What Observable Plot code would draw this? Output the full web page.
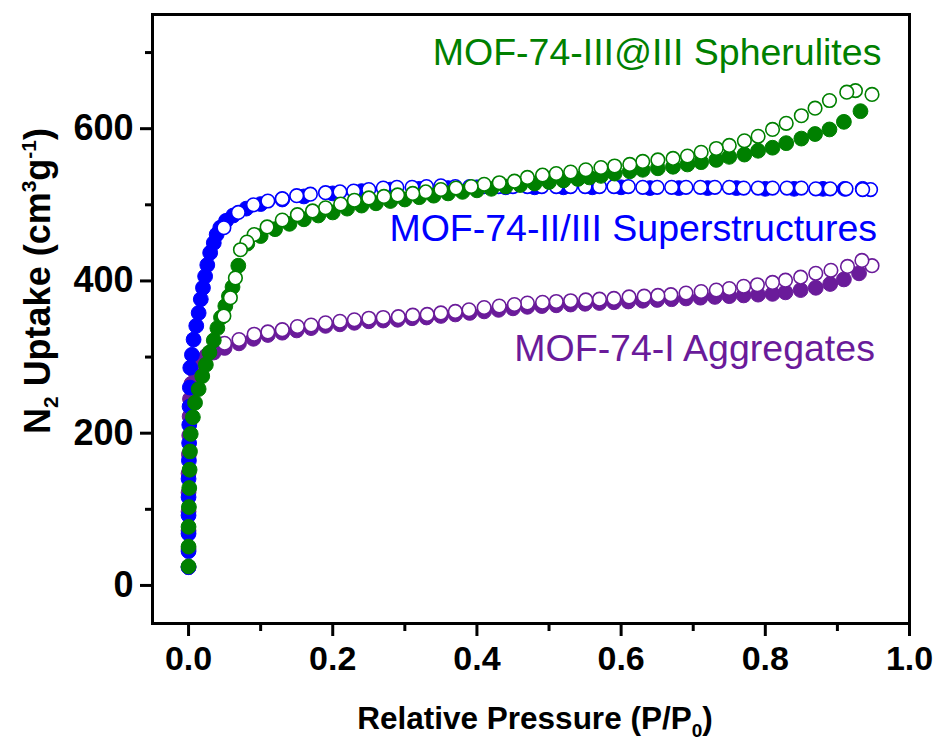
<!DOCTYPE html>
<html>
<head>
<meta charset="utf-8">
<script src="https://cdn.jsdelivr.net/npm/d3@7"></script>
<script src="https://cdn.jsdelivr.net/npm/@observablehq/plot@0.6"></script>
<style>
  html, body { margin: 0; padding: 0; background: #fff; }
  #chart svg { display: block; font-family: "Liberation Sans", Arial, sans-serif; }
</style>
</head>
<body>
<div id="chart"></div>
<script>
// ---- data (relative pressure, uptake) ----
const seriesNames = ["MOF-74-I Aggregates", "MOF-74-II/III Superstructures", "MOF-74-III@III Spherulites"];
const seriesColors = ["#6a1b9a", "#0000ff", "#008000"];

const purpleAds = [[0,24],[0,48],[0,72],[0,97],[0,122],[0,147],[0.0005,172],[0.001,197],[0.0015,222],[0.002,245],[0.004,265],[0.008,282],[0.014,295],[0.025,302],[0.035,306],[0.05,312],[0.07,318],[0.09,324],[0.11,329],[0.13,332],[0.15,335],[0.17,338],[0.19,341],[0.21,343],[0.23,345],[0.25,347],[0.27,348],[0.29,349],[0.31,351],[0.33,352],[0.35,354],[0.37,356],[0.39,358],[0.41,360],[0.43,362],[0.45,364],[0.47,366],[0.49,367],[0.51,368],[0.53,369],[0.55,370],[0.57,371],[0.59,372],[0.61,373],[0.63,374],[0.65,375],[0.67,376],[0.69,377],[0.71,378],[0.73,379],[0.75,380],[0.77,381],[0.79,382],[0.81,383],[0.828,385],[0.849,388],[0.87,391],[0.89,396],[0.909,402],[0.93,410]];
const purpleDes = [[0.948,420],[0.934,427],[0.914,419],[0.891,414],[0.87,410],[0.849,405],[0.828,401],[0.81,398],[0.789,395],[0.77,393],[0.75,390],[0.732,388],[0.711,386],[0.69,384],[0.669,382],[0.651,381],[0.632,380],[0.611,379],[0.59,377],[0.57,376],[0.551,375],[0.53,374],[0.51,373],[0.491,372],[0.47,371],[0.452,369],[0.431,367],[0.41,365],[0.389,362],[0.37,360],[0.35,358],[0.331,356],[0.311,355],[0.291,353],[0.27,352],[0.25,351],[0.23,349],[0.21,347],[0.19,345],[0.17,342],[0.151,340],[0.13,336],[0.11,333],[0.091,330],[0.07,323],[0.05,318]];

const blueAds = [[0,24],[0,45],[0,68],[0,92],[0,116],[0,140],[0.0005,164],[0.0008,187],[0.001,211],[0.0014,235],[0.0018,260],[0.0024,286],[0.0047,303],[0.007,323],[0.0107,341],[0.014,358],[0.017,376],[0.02,391],[0.023,406],[0.026,421],[0.03,437],[0.035,450],[0.039,461],[0.044,470],[0.052,479],[0.062,486],[0.08,495],[0.1,501],[0.13,507],[0.16,511],[0.2,515],[0.24,518],[0.28,520],[0.32,521],[0.36,522],[0.4,523],[0.44,523],[0.48,523],[0.52,523],[0.56,523],[0.6,523],[0.64,522],[0.68,522],[0.72,522],[0.76,522],[0.8,521],[0.84,521],[0.88,521],[0.91,521],[0.935,521]];
const blueDes = [[0.946,520],[0.935,520],[0.912,521],[0.89,521],[0.87,521],[0.85,522],[0.83,522],[0.81,522],[0.79,522],[0.77,522],[0.75,523],[0.73,523],[0.71,523],[0.69,523],[0.67,523],[0.65,523],[0.63,523],[0.61,524],[0.59,524],[0.57,524],[0.55,524],[0.53,524],[0.51,524],[0.49,524],[0.47,524],[0.45,524],[0.43,524],[0.41,524],[0.39,524],[0.37,524],[0.35,525],[0.33,524],[0.31,523],[0.289,523],[0.27,522],[0.25,520],[0.229,518],[0.21,517],[0.19,516],[0.169,514],[0.15,512],[0.13,508],[0.11,505],[0.09,500],[0.069,490],[0.049,470]];

const greenAds = [[0,25],[0,51],[0,77],[0.0005,103],[0.001,128],[0.0015,152],[0.002,176],[0.003,199],[0.006,221],[0.009,240],[0.014,258],[0.019,275],[0.024,290],[0.029,306],[0.035,322],[0.04,338],[0.045,352],[0.051,367],[0.056,380],[0.061,392],[0.069,420],[0.0815,449],[0.1,459],[0.12,468],[0.14,475],[0.16,481],[0.18,486],[0.2,490],[0.22,495],[0.24,499],[0.26,502],[0.28,505],[0.3,507],[0.32,510],[0.34,512],[0.36,515],[0.38,517],[0.4,519],[0.42,521],[0.44,524],[0.46,526],[0.48,528],[0.5,530],[0.52,532],[0.54,534],[0.556,536],[0.572,538],[0.591,541],[0.612,544],[0.63,546],[0.651,548],[0.672,550],[0.692,553],[0.711,556],[0.732,559],[0.75,563],[0.771,566],[0.79,571],[0.81,575],[0.829,581],[0.85,587],[0.869,593],[0.889,599],[0.909,609],[0.932,623]];
const greenDes = [[0.948,645],[0.925,650],[0.913,648],[0.889,637],[0.869,627],[0.85,617],[0.829,607],[0.81,599],[0.79,590],[0.771,584],[0.75,578],[0.732,574],[0.711,569],[0.692,564],[0.672,561],[0.651,559],[0.63,557],[0.612,553],[0.591,551],[0.572,549],[0.551,546],[0.53,543],[0.51,541],[0.491,539],[0.47,536],[0.452,531],[0.431,529],[0.41,527],[0.392,524],[0.371,522],[0.35,520],[0.329,517],[0.311,515],[0.29,513],[0.271,511],[0.25,509],[0.23,506],[0.211,501],[0.19,496],[0.172,492],[0.151,487],[0.13,480],[0.109,471],[0.091,461],[0.081,451],[0.072,441],[0.065,404],[0.058,378],[0.049,354]];

const xMajor = [0, 0.2, 0.4, 0.6, 0.8, 1.0];
const xMinor = [0.1, 0.3, 0.5, 0.7, 0.9];
const yMajor = [0, 200, 400, 600];
const yMinor = [100, 300, 500, 700];

// ---- chart ----
const R = 7.4;
const branches = [
  [purpleAds, purpleDes, seriesColors[0]],
  [blueAds, blueDes, seriesColors[1]],
  [greenAds, greenDes, seriesColors[2]]
];
const dotMarks = [];
for (const [ads, des, c] of branches) {
  dotMarks.push(Plot.dot(ads, {x: d => d[0], y: d => d[1], r: R, fill: c, stroke: c, strokeWidth: 1}));
  dotMarks.push(Plot.dot(des, {x: d => d[0], y: d => d[1], r: R - 0.6, fill: "white", stroke: c, strokeWidth: 1.6}));
}

const chart = Plot.plot({
  width: 936,
  height: 740,
  marginLeft: 152,
  marginRight: 27,
  marginTop: 14,
  marginBottom: 117,
  style: {background: "white", color: "black", fontFamily: "'Liberation Sans', Arial, sans-serif"},
  x: {domain: [-0.05, 1.0], label: null},
  y: {domain: [-50, 750], label: null},
  marks: [
    ...dotMarks,
    Plot.text([seriesNames[2]], {x: () => 0.961, y: () => 700, text: d => d, textAnchor: "end", fill: seriesColors[2], fontSize: 37.5, fontFamily: "'Liberation Sans', Arial, sans-serif"}),
    Plot.text([seriesNames[1]], {x: () => 0.955, y: () => 468, text: d => d, textAnchor: "end", fill: seriesColors[1], fontSize: 37.5, fontFamily: "'Liberation Sans', Arial, sans-serif"}),
    Plot.text([seriesNames[0]], {x: () => 0.952, y: () => 311, text: d => d, textAnchor: "end", fill: seriesColors[0], fontSize: 37.5, fontFamily: "'Liberation Sans', Arial, sans-serif"}),
    Plot.axisX(xMajor, {tickSize: 13, strokeWidth: 3, tickPadding: 9, fontSize: 34, fontWeight: "bold", tickFormat: d3.format(".1f"), label: null}),
    Plot.axisX(xMinor, {tickSize: 8, strokeWidth: 3, tickFormat: () => "", label: null}),
    Plot.axisY(yMajor, {tickSize: 12, strokeWidth: 3, tickPadding: 7, fontSize: 36, fontWeight: "bold", tickFormat: d3.format("d"), label: null}),
    Plot.axisY(yMinor, {tickSize: 7, strokeWidth: 3, tickFormat: () => "", label: null}),
    Plot.frame({stroke: "black", strokeWidth: 3})
  ]
});

const svg = d3.select(chart);
// x-axis title
const xt = svg.append("text")
  .attr("x", 535).attr("y", 729)
  .attr("text-anchor", "middle")
  .attr("font-weight", "bold").attr("font-size", 31.5).attr("fill", "black");
xt.append("tspan").text("Relative Pressure (P/P");
xt.append("tspan").attr("font-size", 19).attr("dy", 8).text("0");
xt.append("tspan").attr("dy", -8).text(")");

// y-axis title
const yt = svg.append("text")
  .attr("transform", "translate(50,281) rotate(-90)")
  .attr("text-anchor", "middle")
  .attr("font-weight", "bold").attr("font-size", 36).attr("fill", "black");
yt.append("tspan").text("N");
yt.append("tspan").attr("font-size", 21).attr("dy", 8).text("2");
yt.append("tspan").attr("dy", -8).text(" Uptake (cm");
yt.append("tspan").attr("font-size", 21).attr("dy", -14).text("3");
yt.append("tspan").attr("dy", 14).text("g");
yt.append("tspan").attr("font-size", 21).attr("dy", -14).text("-1");
yt.append("tspan").attr("dy", 14).text(")");

document.getElementById("chart").appendChild(chart);
</script>
</body>
</html>
